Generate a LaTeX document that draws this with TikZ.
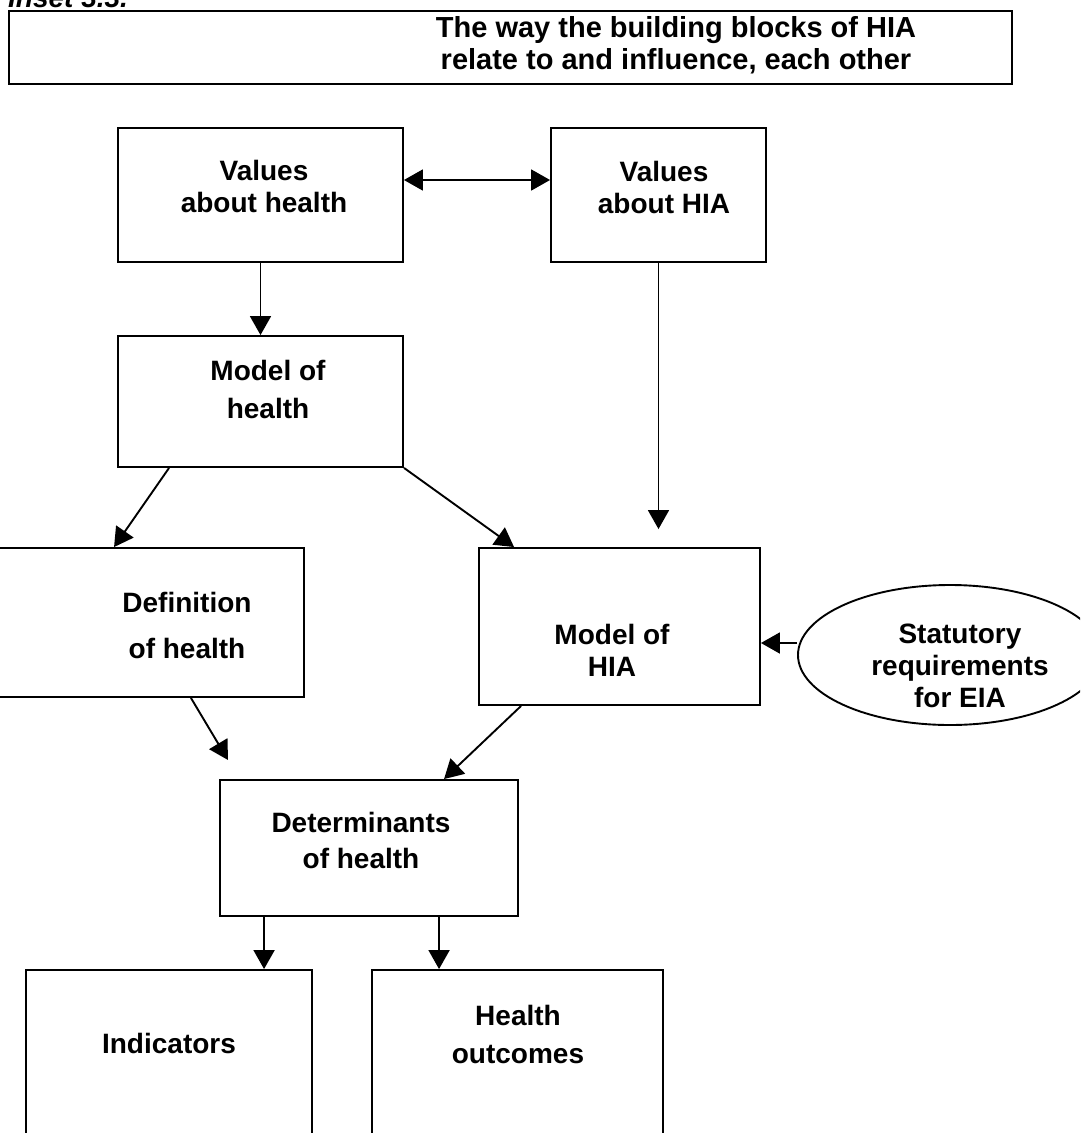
\documentclass[tikz,border=0pt]{standalone}
\usepackage{fontspec}
\setmainfont{Liberation Sans}
\usetikzlibrary{arrows.meta,shapes.geometric,calc}
\begin{document}
\begin{tikzpicture}[x=1pt,y=-1pt,
 box/.style={draw, line width=1.9pt, rectangle, inner sep=0pt},
 txt/.style={font=\bfseries\fontsize{28}{32}\selectfont, align=center, inner sep=0pt},
 arr/.style={-{Triangle[length=19pt,width=21pt]}, line width=1.9pt},
 darr/.style={{Triangle[length=19pt,width=21pt]}-{Triangle[length=19pt,width=21pt]}, line width=1.9pt}]
\useasboundingbox (0,0) rectangle (1080,1133);
\clip (0,0) rectangle (1080,1133);

% inset label (cut off at top)
\node[font=\bfseries\itshape\fontsize{28}{32}\selectfont, anchor=base west, inner sep=0pt] (inset) at (8,7) {Inset 3.3.};

% title
\node[box, line width=2.8pt, minimum width=1003pt, minimum height=73pt] (title) at (510.5,47.5) {};
\node[txt, font=\bfseries\fontsize{29}{32}\selectfont] (titletxt) at (676,45) {The way the building blocks of HIA\\relate to and influence, each other};

% boxes
\node[box, minimum width=285pt, minimum height=134pt] (vh) at (260.5,195) {};
\node[box, minimum width=215pt, minimum height=134pt] (vhia) at (658.5,195) {};
\node[box, minimum width=285pt, minimum height=131pt] (mh) at (260.5,401.5) {};
\node[box, minimum width=310pt, minimum height=149pt] (def) at (149,622.5) {};
\node[box, minimum width=281pt, minimum height=157pt] (mhia) at (619.5,626.5) {};
\node[draw, ellipse, line width=1.9pt, inner sep=0pt, minimum width=304pt, minimum height=140pt] (stat) at (950,655) {};
\node[box, minimum width=298pt, minimum height=136pt] (det) at (369,848) {};
\node[box, minimum width=286pt, minimum height=200pt] (ind) at (169,1070) {};
\node[box, minimum width=291pt, minimum height=200pt] (out) at (517.5,1070) {};

% texts
\node[txt] (vhtxt) at (264,186) {Values\\about health};
\node[txt] (vhiatxt) at (664,187) {Values\\about HIA};
\node[txt] (mhtxt) at (268,389) {Model of\\[6pt]health};
\node[txt] (deftxt) at (187,625) {Definition\\[14pt]of health};
\node[txt] (mhiatxt) at (612,650) {Model of\\HIA};
\node[txt] (stattxt) at (960,666) {Statutory\\requirements\\for EIA};
\node[txt] (dettxt) at (361,840) {Determinants\\[4pt]of health};
\node[txt] (indtxt) at (169,1043) {Indicators};
\node[txt] (outtxt) at (518,1034) {Health\\[6pt]outcomes};

% connectors
\draw[darr] ([yshift=15pt]vh.east) -- ([yshift=15pt]vhia.west);
\draw[arr] (vh.south) -- (mh.north);
\draw[arr] ([xshift=52pt]mh.south west) -- ([xshift=121pt]def.north west);
\draw[arr] ([xshift=287pt]mh.south west) -- ([xshift=36pt]mhia.north west);
\draw[arr] (vhia.south) -- ([yshift=18pt]vhia.south |- mhia.north);
\draw[arr] ([yshift=12pt]stat.west) -- ([yshift=12pt]stat.west -| mhia.east);
\coordinate (c1) at (228,760);
\draw[arr] ([xshift=-114pt]def.south east) -- (c1);
\draw[arr] ([xshift=43pt]mhia.south west) -- ([xshift=225pt]det.north west);
\draw[arr] ([xshift=45pt]det.south west) -- ([xshift=45pt]det.south west |- ind.north);
\draw[arr] ([xshift=220pt]det.south west) -- ([xshift=220pt]det.south west |- out.north);
\end{tikzpicture}
\end{document}
